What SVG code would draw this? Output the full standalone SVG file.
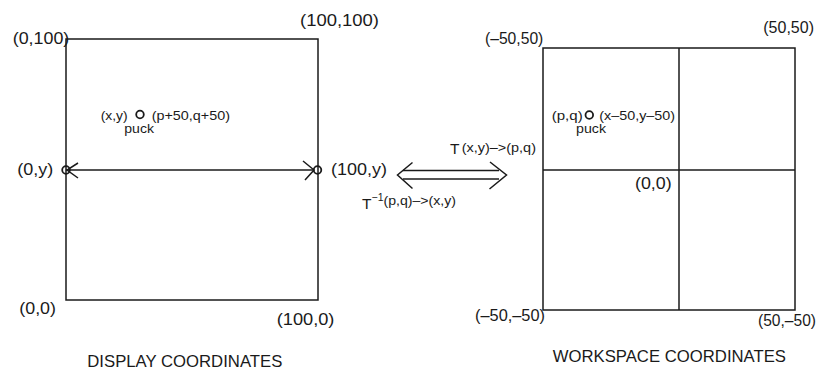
<svg xmlns="http://www.w3.org/2000/svg" width="820" height="371" viewBox="0 0 820 371">
<style>
.ln{fill:none;stroke:#1a1a1a;stroke-width:1.5}
.pt{fill:none;stroke:#1a1a1a;stroke-width:1.8}
text{font-family:"Liberation Sans",Arial,Helvetica,sans-serif;fill:#1a1a1a}
.b{font-size:17px}
.s{font-size:13.5px}
.t{font-size:15.5px}
.sup{font-size:10.5px}
</style>
<rect width="820" height="371" fill="#fff"/>
<g id="display">
<rect class="ln" x="66" y="39" width="252" height="261"/>
<text class="b" x="12.7" y="44" textLength="56.6" lengthAdjust="spacingAndGlyphs">(0,100)</text>
<text class="b" x="300" y="25.5" textLength="79" lengthAdjust="spacingAndGlyphs">(100,100)</text>
<text class="b" x="17.3" y="175" textLength="36" lengthAdjust="spacingAndGlyphs">(0,y)</text>
<text class="b" x="331" y="175" textLength="56" lengthAdjust="spacingAndGlyphs">(100,y)</text>
<text class="b" x="19.3" y="313.5" textLength="36.7" lengthAdjust="spacingAndGlyphs">(0,0)</text>
<text class="b" x="276.7" y="324.5" textLength="57.7" lengthAdjust="spacingAndGlyphs">(100,0)</text>
<text class="b" x="87.3" y="366.5" textLength="195" lengthAdjust="spacingAndGlyphs">DISPLAY COORDINATES</text>
</g>
<g id="display-puck">
<circle class="pt" cx="140" cy="114.5" r="3.8"/>
<text class="s" x="100.7" y="119.5" textLength="27" lengthAdjust="spacingAndGlyphs">(x,y)</text>
<text class="s" x="151.7" y="119.5" textLength="78.3" lengthAdjust="spacingAndGlyphs">(p+50,q+50)</text>
<text class="s" x="124.3" y="133" textLength="29.7" lengthAdjust="spacingAndGlyphs">puck</text>
</g>
<g id="workspace">
<rect class="ln" x="543" y="48" width="252" height="262"/>
<line class="ln" x1="679" y1="48" x2="679" y2="310"/>
<line class="ln" x1="543" y1="170" x2="795" y2="170"/>
<text class="b" x="485" y="43.5" textLength="58.3" lengthAdjust="spacingAndGlyphs">(–50,50)</text>
<text class="b" x="763.3" y="33" textLength="50.7" lengthAdjust="spacingAndGlyphs">(50,50)</text>
<text class="b" x="635" y="188.5" textLength="36.7" lengthAdjust="spacingAndGlyphs">(0,0)</text>
<text class="b" x="475" y="321" textLength="70" lengthAdjust="spacingAndGlyphs">(–50,–50)</text>
<text class="b" x="758" y="326" textLength="58" lengthAdjust="spacingAndGlyphs">(50,–50)</text>
<text class="b" x="552.7" y="361.5" textLength="233.3" lengthAdjust="spacingAndGlyphs">WORKSPACE COORDINATES</text>
</g>
<g id="workspace-puck">
<circle class="pt" cx="589.3" cy="115" r="3.8"/>
<text class="s" x="551.7" y="119.5" textLength="31" lengthAdjust="spacingAndGlyphs">(p,q)</text>
<text class="s" x="599.3" y="119.5" textLength="75.7" lengthAdjust="spacingAndGlyphs">(x–50,y–50)</text>
<text class="s" x="576" y="133" textLength="30" lengthAdjust="spacingAndGlyphs">puck</text>
</g>
<g id="connectors">
<g id="edge-span">
<circle class="pt" cx="66" cy="170" r="3.8"/>
<circle class="pt" cx="317.5" cy="170" r="3.8"/>
<line class="ln" x1="66" y1="170" x2="314" y2="170"/>
<polyline class="ln" points="78,163 67,170 78,178"/>
<polyline class="ln" points="303,161 314,170 305,180"/>
</g>
<g id="transform">
<line class="ln" x1="403" y1="170.5" x2="499" y2="170.5"/>
<line class="ln" x1="403" y1="179" x2="499" y2="179"/>
<polyline class="ln" points="412.5,162.5 397.5,175 412.5,188.5"/>
<polyline class="ln" points="490,162 506.5,175 489.5,189"/>
<text><tspan class="t" x="450" y="154">T</tspan><tspan class="s" x="461.7" y="151.5" textLength="74.3" lengthAdjust="spacingAndGlyphs">(x,y)–&gt;(p,q)</tspan></text>
<text><tspan class="t" x="362" y="209">T</tspan><tspan class="sup" x="371.5" y="200.5">−1</tspan><tspan class="s" x="383.5" y="205" textLength="72.5" lengthAdjust="spacingAndGlyphs">(p,q)–&gt;(x,y)</tspan></text>
</g>
</g>
</svg>
